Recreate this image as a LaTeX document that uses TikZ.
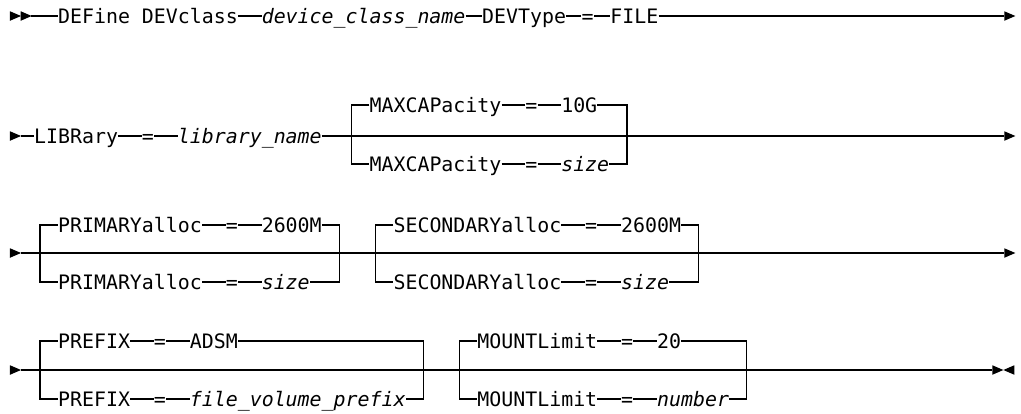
\documentclass[tikz,border=0pt]{standalone}
\usepackage{fontspec}
\setmonofont{DejaVu Sans Mono}
\begin{document}
\begin{tikzpicture}[x=11.98pt,y=-1pt,
  ln/.style={line width=1.2pt},
  tok/.style={inner sep=0pt,anchor=west,text height=15pt,text depth=0pt,
    font=\fontsize{19.9pt}{20pt}\selectfont\ttfamily},
  var/.style={tok,font=\fontsize{19.9pt}{20pt}\selectfont\ttfamily\itshape},
  rtri/.pic={\fill (0pt,4.75pt) -- (11pt,0pt) -- (0pt,-4.75pt) -- cycle;},
  ltri/.pic={\fill (11pt,4.75pt) -- (0pt,0pt) -- (11pt,-4.75pt) -- cycle;}
]
\useasboundingbox (-0.8347,0) rectangle (84.391,413);

% ---------------- Row 1 ----------------
\pic at (0,16) {rtri}; \pic at (0.893,16) {rtri};
\coordinate (s1) at (1.786,16);
\node[tok] (a1) at (4,16) {DEFine DEVclass};
\node[var] (a2) at (21,16) {device\_class\_name};
\node[tok] (a3) at (39.4,16) {DEVType};
\node[tok] (a4) at (47.7,16) {=};
\node[tok] (a5) at (50.1,16) {FILE};
\coordinate (e1) at (83,16);
\pic at (e1) {rtri};
\draw[ln] (s1) -- (a1.west) (a1.east) -- (a2.west) (a2.east) -- (a3.west)
  (a3.east) -- (a4.west) (a4.east) -- (a5.west) (a5.east) -- (e1);

% ---------------- Row 2 ----------------
\pic at (0,136) {rtri};
\coordinate (s2) at (0.893,136);
\node[tok] (b1) at (2,136) {LIBRary};
\node[tok] (b2) at (11,136) {=};
\node[var] (b3) at (14,136) {library\_name};
\coordinate (e2) at (83,136);
\pic at (e2) {rtri};
\draw[ln] (s2) -- (b1.west) (b1.east) -- (b2.west) (b2.east) -- (b3.west)
  (b3.east) -- (e2);
% choice
\coordinate (b4l) at (28.5,105); \coordinate (b5l) at (28.5,164);
\coordinate (b4r) at (51.5,105); \coordinate (b5r) at (51.5,164);
\node[tok] (bt1) at (30,105) {MAXCAPacity};
\node[tok] (bt2) at (43,105) {=};
\node[tok] (bt3) at (46,105) {10G};
\node[tok] (bb1) at (30,164) {MAXCAPacity};
\node[tok] (bb2) at (43,164) {=};
\node[var] (bb3) at (46,164) {size};
\draw[ln] (bt1.west) -- (b4l) -- (b5l) -- (bb1.west);
\draw[ln] (bt3.east) -- (b4r) -- (b5r) -- (bb3.east);
\draw[ln] (bt1.east) -- (bt2.west) (bt2.east) -- (bt3.west)
  (bb1.east) -- (bb2.west) (bb2.east) -- (bb3.west);

% ---------------- Row 3 ----------------
\pic at (0,253) {rtri};
\coordinate (s3) at (0.893,253);
\coordinate (e3) at (83,253);
\pic at (e3) {rtri};
\draw[ln] (s3) -- (e3);
% PRIMARYalloc
\coordinate (c1l) at (2.5,225); \coordinate (c2l) at (2.5,282);
\coordinate (c1r) at (27.5,225); \coordinate (c2r) at (27.5,282);
\node[tok] (ct1) at (4,225) {PRIMARYalloc};
\node[tok] (ct2) at (18,225) {=};
\node[tok] (ct3) at (21,225) {2600M};
\node[tok] (cb1) at (4,282) {PRIMARYalloc};
\node[tok] (cb2) at (18,282) {=};
\node[var] (cb3) at (21,282) {size};
\draw[ln] (ct1.west) -- (c1l) -- (c2l) -- (cb1.west);
\draw[ln] (ct3.east) -- (c1r) -- (c2r) -- (cb3.east);
\draw[ln] (ct1.east) -- (ct2.west) (ct2.east) -- (ct3.west)
  (cb1.east) -- (cb2.west) (cb2.east) -- (cb3.west);
% SECONDARYalloc
\coordinate (d1l) at (30.5,225); \coordinate (d2l) at (30.5,282);
\coordinate (d1r) at (57.5,225); \coordinate (d2r) at (57.5,282);
\node[tok] (dt1) at (32,225) {SECONDARYalloc};
\node[tok] (dt2) at (48,225) {=};
\node[tok] (dt3) at (51,225) {2600M};
\node[tok] (db1) at (32,282) {SECONDARYalloc};
\node[tok] (db2) at (48,282) {=};
\node[var] (db3) at (51,282) {size};
\draw[ln] (dt1.west) -- (d1l) -- (d2l) -- (db1.west);
\draw[ln] (dt3.east) -- (d1r) -- (d2r) -- (db3.east);
\draw[ln] (dt1.east) -- (dt2.west) (dt2.east) -- (dt3.west)
  (db1.east) -- (db2.west) (db2.east) -- (db3.west);

% ---------------- Row 4 ----------------
\pic at (0,370) {rtri};
\coordinate (s4) at (0.893,370);
\coordinate (e4) at (82,370);
\pic at (82,370) {rtri};
\pic at (82.918,370) {ltri};
\draw[ln] (s4) -- (e4);
% PREFIX
\coordinate (f1l) at (2.5,341); \coordinate (f2l) at (2.5,399);
\coordinate (f1r) at (34.5,341); \coordinate (f2r) at (34.5,399);
\node[tok] (ft1) at (4,341) {PREFIX};
\node[tok] (ft2) at (12,341) {=};
\node[tok] (ft3) at (15,341) {ADSM};
\node[tok] (fb1) at (4,399) {PREFIX};
\node[tok] (fb2) at (12,399) {=};
\node[var] (fb3) at (15,399) {file\_volume\_prefix};
\draw[ln] (ft1.west) -- (f1l) -- (f2l) -- (fb1.west);
\draw[ln] (ft3.east) -- (f1r) -- (f2r) -- (fb3.east);
\draw[ln] (ft1.east) -- (ft2.west) (ft2.east) -- (ft3.west)
  (fb1.east) -- (fb2.west) (fb2.east) -- (fb3.west);
% MOUNTLimit
\coordinate (g1l) at (37.5,341); \coordinate (g2l) at (37.5,399);
\coordinate (g1r) at (61.5,341); \coordinate (g2r) at (61.5,399);
\node[tok] (gt1) at (39,341) {MOUNTLimit};
\node[tok] (gt2) at (51,341) {=};
\node[tok] (gt3) at (54,341) {20};
\node[tok] (gb1) at (39,399) {MOUNTLimit};
\node[tok] (gb2) at (51,399) {=};
\node[var] (gb3) at (54,399) {number};
\draw[ln] (gt1.west) -- (g1l) -- (g2l) -- (gb1.west);
\draw[ln] (gt3.east) -- (g1r) -- (g2r) -- (gb3.east);
\draw[ln] (gt1.east) -- (gt2.west) (gt2.east) -- (gt3.west)
  (gb1.east) -- (gb2.west) (gb2.east) -- (gb3.west);
\end{tikzpicture}
\end{document}
